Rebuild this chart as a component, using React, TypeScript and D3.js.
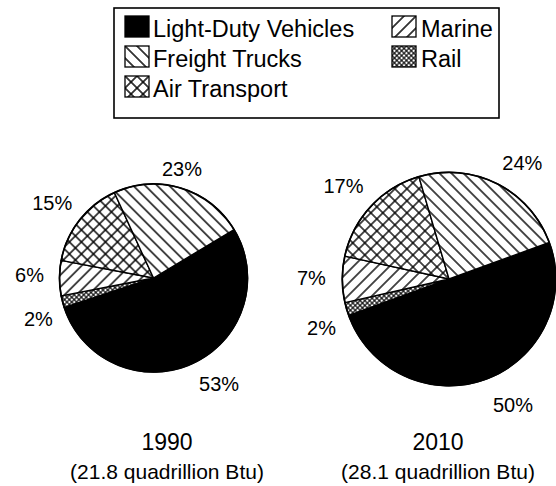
import React from "react";
import * as d3 from "d3";

// ---- data ----
const categories = ["Light-Duty Vehicles", "Rail", "Marine", "Air Transport", "Freight Trucks"];
const years = ["1990", "2010"];
const totals = [21.8, 28.1];
const shares1990 = [53, 2, 6, 15, 23];
const shares2010 = [50, 2, 7, 17, 24];
const legendCol1 = ["Light-Duty Vehicles", "Freight Trucks", "Air Transport"];
const legendCol2 = ["Marine", "Rail"];

// ---- layout ----
const W = 556;
const H = 486;
const FONT = "'Liberation Sans', Arial, Helvetica, sans-serif";
const pieLayout = [
  { cx: 153.5, cy: 278, start: 59, titleX: 167, nudge: [[-7, 1.33], [-5, 1.3], [1.5, 1.32], [-1.6, 1.34], [-2.6, 1.2]] },
  { cx: 449, cy: 279, start: 70, titleX: 438, nudge: [[-7, 1.32], [-4.6, 1.28], [0.5, 1.29], [-1.5, 1.32], [5.4, 1.29]] },
];
const baseR = 94;

const fillKey: Record<string, string> = {
  "Light-Duty Vehicles": "solid",
  "Freight Trucks": "back",
  "Marine": "fwd",
  "Air Transport": "cross",
  "Rail": "fine",
};

function Patterns({ suffix, d, fine, sw }: { suffix: string; d: number; fine: number; sw: number }) {
  const vl = (s: number, w: number) => (
    <>
      <line x1={0} y1={0} x2={0} y2={s} stroke="#000" strokeWidth={w} />
      <line x1={s} y1={0} x2={s} y2={s} stroke="#000" strokeWidth={w} />
    </>
  );
  const hl = (s: number, w: number) => (
    <>
      <line x1={0} y1={0} x2={s} y2={0} stroke="#000" strokeWidth={w} />
      <line x1={0} y1={s} x2={s} y2={s} stroke="#000" strokeWidth={w} />
    </>
  );
  return (
    <>
      <pattern id={"back" + suffix} patternUnits="userSpaceOnUse" width={d} height={d} patternTransform="rotate(-45)">
        <rect width={d} height={d} fill="#fff" />
        {vl(d, sw)}
      </pattern>
      <pattern id={"fwd" + suffix} patternUnits="userSpaceOnUse" width={d} height={d} patternTransform="rotate(45)">
        <rect width={d} height={d} fill="#fff" />
        {vl(d, sw)}
      </pattern>
      <pattern id={"cross" + suffix} patternUnits="userSpaceOnUse" width={d} height={d} patternTransform="rotate(45)">
        <rect width={d} height={d} fill="#fff" />
        {vl(d, sw)}
        {hl(d, sw)}
      </pattern>
      <pattern id={"fine" + suffix} patternUnits="userSpaceOnUse" width={fine} height={fine} patternTransform="rotate(45)">
        <rect width={fine} height={fine} fill="#fff" />
        {vl(fine, 1.1)}
        {hl(fine, 1.1)}
      </pattern>
    </>
  );
}

function fillFor(cat: string, suffix: string) {
  const k = fillKey[cat];
  return k === "solid" ? "#000" : `url(#${k}${suffix})`;
}

function Pie({ idx }: { idx: number }) {
  const shares = idx === 0 ? shares1990 : shares2010;
  const L = pieLayout[idx];
  const r = baseR * Math.sqrt(totals[idx] / totals[0]);
  const a0 = (L.start * Math.PI) / 180;
  const pie = d3.pie<number>().sort(null).value((v) => v).startAngle(a0).endAngle(a0 + 2 * Math.PI);
  const arcs = pie(shares);
  const arc = d3.arc<d3.PieArcDatum<number>>().innerRadius(0).outerRadius(r);
  return (
    <g transform={`translate(${L.cx},${L.cy})`}>
      {arcs.map((a, i) => (
        <path key={i} d={arc(a) || ""} fill={fillFor(categories[i], "P")} stroke="#000" strokeWidth={1.4} strokeLinejoin="round" />
      ))}
      <circle r={r} fill="none" stroke="#000" strokeWidth={1.7} />
      {arcs.map((a, i) => {
        const [dA, f] = L.nudge[i];
        const ang = (a.startAngle + a.endAngle) / 2 + (dA * Math.PI) / 180;
        const R = r * f;
        return (
          <text key={"t" + i} x={R * Math.sin(ang)} y={-R * Math.cos(ang)} textAnchor="middle" dominantBaseline="central" fontSize={20} fontFamily={FONT} fill="#000">
            {shares[i]}%
          </text>
        );
      })}
    </g>
  );
}

export default function App() {
  const lgX = 114, lgY = 8, lgW = 385, lgH = 110;
  const rowY = [16, 46, 76];
  const sw = 24, sh = 21;
  const col = [
    { items: legendCol1, sx: 125, tx: 153 },
    { items: legendCol2, sx: 392, tx: 421 },
  ];
  return (
    <svg width={W} height={H} style={{ position: "absolute", left: 0, top: 0, background: "#fff" }} fontFamily={FONT}>
      <defs>
        <Patterns suffix="P" d={8.5} fine={3.4} sw={1.4} />
        <Patterns suffix="L" d={8.5} fine={3.4} sw={1.5} />
      </defs>
      <rect x={0} y={0} width={W} height={H} fill="#fff" />
      {/* legend */}
      <rect x={lgX} y={lgY} width={lgW} height={lgH} fill="#fff" stroke="#000" strokeWidth={1.6} />
      {col.map((c, ci) =>
        c.items.map((cat, ri) => (
          <g key={ci + "-" + ri}>
            <g transform={`translate(${c.sx},${rowY[ri]})`}>
              <rect x={0} y={0} width={sw} height={sh} fill={fillFor(cat, "L")} stroke="#000" strokeWidth={1.3} />
            </g>
            <text x={c.tx} y={rowY[ri] + 20.5} fontSize={23.5} fill="#000">
              {cat}
            </text>
          </g>
        ))
      )}
      {years.map((y, i) => (
        <g key={y}>
          <Pie idx={i} />
          <text x={pieLayout[i].titleX} y={450} textAnchor="middle" fontSize={23} fill="#000">
            {y}
          </text>
          <text x={pieLayout[i].titleX} y={479} textAnchor="middle" fontSize={21} fill="#000">
            ({totals[i].toFixed(1)} quadrillion Btu)
          </text>
        </g>
      ))}
    </svg>
  );
}
